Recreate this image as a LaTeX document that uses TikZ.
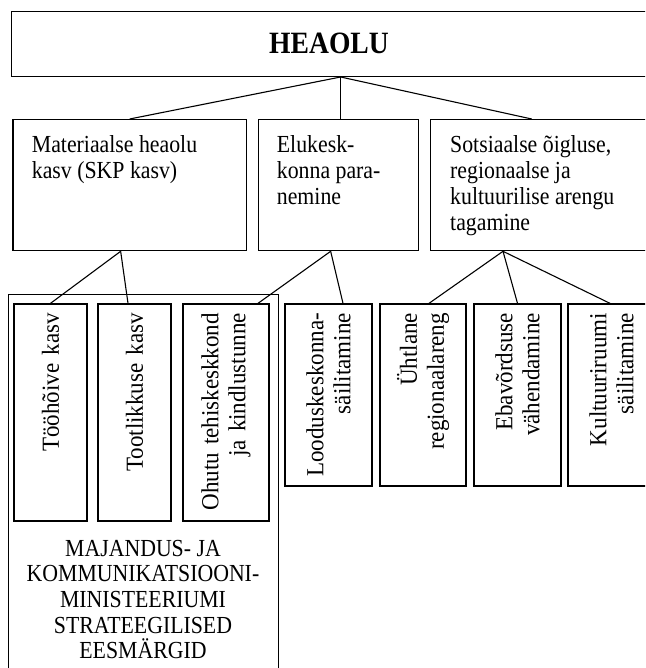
\documentclass[tikz,border=0pt]{standalone}
\usepackage{fontspec}
\setmainfont{Liberation Serif}[FakeStretch=0.89]
\newfontfamily\vfont{Liberation Serif}[FakeStretch=0.94]

\begin{document}
\begin{tikzpicture}[x=1pt, y=-1pt,
        box/.style={draw, line width=1.3pt, inner sep=0pt},
        txt/.style={inner sep=0pt, align=left, anchor=north west, font=\fontsize{24.5}{26}\selectfont},
        vbox/.style={box, rotate=90, align=right, font=\vfont\fontsize{24.5}{27}\selectfont},
        link/.style={line width=1.1pt}]
        \path[use as bounding box, clip] (0,0) rectangle (645,668);

        \node[box, anchor=north west, minimum width=658.6pt, minimum height=65pt] (heaolu) at (10.7,10.7) {};
        \node[inner sep=0pt, font=\bfseries\fontsize{31}{31}\selectfont] (heaolutxt) at (329,43) {HEAOLU};

        \node[box, anchor=north west, minimum width=233.4pt, minimum height=131pt] (mat) at (12.3,119) {};
        \node[box, anchor=north west, minimum width=160pt, minimum height=131pt] (elu) at (257.7,119) {};
        \node[box, anchor=north west, minimum width=300pt, minimum height=131pt] (sots) at (430,119) {};
        \node[txt] (mattxt) at (31.7,135) {Materiaalse heaolu\\kasv (SKP kasv)};
        \node[txt] (elutxt) at (276.7,135) {Elukesk-\\konna para-\\nemine};
        \node[txt] (sotstxt) at (450,135) {Sotsiaalse õigluse,\\regionaalse ja\\kultuurilise arengu\\tagamine};

        \node[box, anchor=north west, minimum width=270pt, minimum height=420pt] (mkmbox) at (8,294) {};
        \node[inner sep=0pt, align=center, font=\fontsize{24.5}{25.7}\selectfont] (mkm) at (143,599.5)
            {MAJANDUS- JA\\KOMMUNIKATSIOONI-\\MINISTEERIUMI\\STRATEEGILISED\\EESMÄRGID};

        \foreach \nm/\cx/\bw/\bh/\tw/\tx in {
            tooh/50.5/73/217/199pt/{Tööhõive kasv},
            toot/134.5/73/217/199pt/{Tootlikkuse kasv},
            ohutu/226/86/217/199pt/{Ohutu tehiskeskkond\\ja kindlustunne},
            lood/328.5/87/182/164pt/{Looduskeskonna-\\säilitamine},
            yht/423/86/182/164pt/{Ühtlane\\regionaalareng},
            eba/517.5/87/182/164pt/{Ebavõrdsuse\\vähendamine},
            kult/611.5/87/182/164pt/{Kultuuriruumi\\säilitamine}} {
            \node[vbox, minimum width=\bh, minimum height=\bw, text width=\tw] (\nm) at (\cx, {304+\bh/2}) {\tx};
        }

        \coordinate (matlow) at ([xshift=-9pt]mat.south);
        \coordinate (elulow) at ([xshift=-7.7pt]elu.south);
        \coordinate (sotslow) at ([xshift=73pt]sots.south west);

        \draw[link] (heaolu.south) -- (mat.north);
        \draw[link] (heaolu.south) -- (elu.north -| heaolu.south);
        \draw[link] (heaolu.south) -- ([xshift=101.7pt]sots.north west);
        \draw[link] (matlow) -- (tooh.east);
        \draw[link] (matlow) -- ([xshift=-6.5pt]toot.east);
        \draw[link] (elulow) -- ([xshift=32pt]ohutu.east);
        \draw[link] (elulow) -- ([xshift=14.5pt]lood.east);
        \draw[link] (sotslow) -- ([xshift=6pt]yht.east);
        \draw[link] (sotslow) -- (eba.east);
        \draw[link] (sotslow) -- ([xshift=-1.5pt]kult.east);
    \end{tikzpicture}
\end{document}
